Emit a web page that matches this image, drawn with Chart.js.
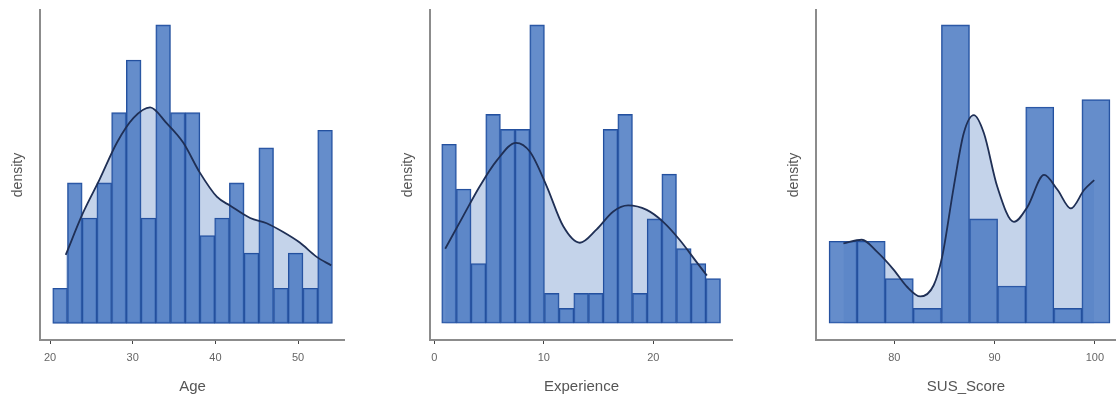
<!DOCTYPE html>
<html>
<head>
<meta charset="utf-8">
<script src="https://cdn.jsdelivr.net/npm/chart.js@4.4.1/dist/chart.umd.min.js"></script>
<style>
  html,body{margin:0;padding:0;background:#fff;}
  #wrap{position:relative;width:1116px;height:399px;overflow:hidden;}
  .pnl{position:absolute;top:0;}
</style>
</head>
<body>
<div id="wrap">
  <div class="pnl" style="left:0px"><canvas id="cAge" width="345" height="399"></canvas></div>
  <div class="pnl" style="left:390px"><canvas id="cExp" width="343" height="399"></canvas></div>
  <div class="pnl" style="left:776px"><canvas id="cSus" width="340" height="399"></canvas></div>
</div>
<script>
// ---- Age ----
const ageBins    = [21.22,23.00,24.78,26.56,28.34,30.12,31.90,33.68,35.46,37.24,39.02,40.80,42.58,44.36,46.14,47.92,49.70,51.48,53.26];
const ageCounts  = [2,8,6,8,12,15,6,17,12,12,5,6,8,4,10,2,4,2,11];
const ageDensX   = [21.9,24.0,26.0,28.1,30.1,32.1,34.1,36.1,38.1,40.2,41.8,44.2,46.2,48.2,50.2,52.2,54.0];
const ageDensY   = [3.9,6.3,8.2,10.3,11.7,12.3,11.4,10.3,8.6,7.2,6.7,6.0,5.7,5.2,4.6,3.8,3.3];
const ageTicks   = [20,30,40,50];

// ---- Experience ----
const expBins    = [1.35,2.69,4.03,5.37,6.71,8.05,9.39,10.73,12.07,13.41,14.75,16.09,17.43,18.77,20.11,21.45,22.79,24.13,25.47];
const expCounts  = [12,9,4,14,13,13,20,2,1,2,2,13,14,2,7,10,5,4,3];
const expDensX   = [1.0,2.65,4.17,5.7,7.46,8.74,10.26,11.78,13.3,14.83,16.35,17.7,19.4,20.9,22.4,23.96,24.9];
const expDensY   = [5.0,7.2,9.2,10.9,12.1,11.5,9.2,6.5,5.4,6.3,7.5,7.9,7.6,6.8,5.6,4.1,3.2];
const expTicks   = [0,10,20];

// ---- SUS_Score ----
const susBins    = [74.9,77.7,80.5,83.3,86.1,88.9,91.7,94.5,97.3,100.1];
const susCounts  = [11,11,6,2,40,14,5,29,2,30];
const susDensX   = [74.93,76.77,78.27,79.93,81.27,82.6,83.93,84.77,85.93,86.93,87.93,88.93,90.27,91.93,93.27,94.93,96.27,97.6,98.93,99.93];
const susDensY   = [10.7,11.2,9.6,7.2,4.9,3.6,5.1,8.9,18.3,25.5,27.9,25.5,18.3,13.6,15.6,19.9,17.9,15.4,17.9,19.2];
const susTicks   = [80,90,100];

const FONT = "'Liberation Sans', Arial, sans-serif";

function _pts(xs, ys){ return xs.map((x,i)=>({x, y:ys[i]})); }

function makeHist(id, title, bins, counts, dx, dy, ticks, xr, yr){
  const ctx = document.getElementById(id);
  return new Chart(ctx, {
    type:'bar',
    data:{
      datasets:[
        { // density shading
          type:'line', data:_pts(dx,dy), order:3,
          borderWidth:0, pointRadius:0, fill:'origin',
          backgroundColor:'#c4d3ea', tension:0.4, cubicInterpolationMode:'monotone'
        },
        { // histogram
          type:'bar', data:_pts(bins,counts), order:2,
          backgroundColor:'rgba(76,122,194,0.86)', borderColor:'#24509e',
          borderWidth:1.2, borderSkipped:false,
          barPercentage:1, categoryPercentage:1
        },
        { // density curve
          type:'line', data:_pts(dx,dy), order:1,
          borderColor:'#1f2f55', borderWidth:1.8, pointRadius:0, fill:false,
          tension:0.4, cubicInterpolationMode:'monotone'
        }
      ]
    },
    options:{
      responsive:false, animation:false,
      layout:{padding:{top:10,left:0,right:0,bottom:0}},
      plugins:{legend:{display:false}, tooltip:{enabled:false}},
      scales:{
        x:{
          type:'linear', min:xr[0], max:xr[1], offset:false,
          afterBuildTicks:s=>{ s.ticks = ticks.map(v=>({value:v})); },
          afterFit:s=>{ s.height = 59; },
          grid:{display:true, offset:false, drawOnChartArea:false, drawTicks:true, tickLength:4, color:'#444', lineWidth:1},
          border:{display:true, color:'#8c8c8c', width:2},
          ticks:{color:'#666', font:{family:FONT, size:11}, padding:7, maxRotation:0},
          title:{display:true, text:title, color:'#555', font:{family:FONT, size:15}, padding:{top:0,bottom:3}}
        },
        y:{
          min:yr[0], max:yr[1],
          afterFit:s=>{ s.width = 40; },
          grid:{display:false},
          border:{display:true, color:'#8c8c8c', width:2},
          ticks:{display:false},
          title:{display:true, text:'density', color:'#555', font:{family:FONT, size:14}, padding:{top:10,bottom:0}}
        }
      }
    }
  });
}

makeHist('cAge','Age',ageBins,ageCounts,ageDensX,ageDensY,ageTicks,[18.79,55.67],[-0.95,17.85]);
makeHist('cExp','Experience',expBins,expCounts,expDensX,expDensY,expTicks,[-0.39,27.28],[-1.12,21.0]);
makeHist('cSus','SUS_Score',susBins,susCounts,susDensX,susDensY,susTicks,[72.2,102.1],[-2.24,42.0]);
</script>
</body>
</html>
